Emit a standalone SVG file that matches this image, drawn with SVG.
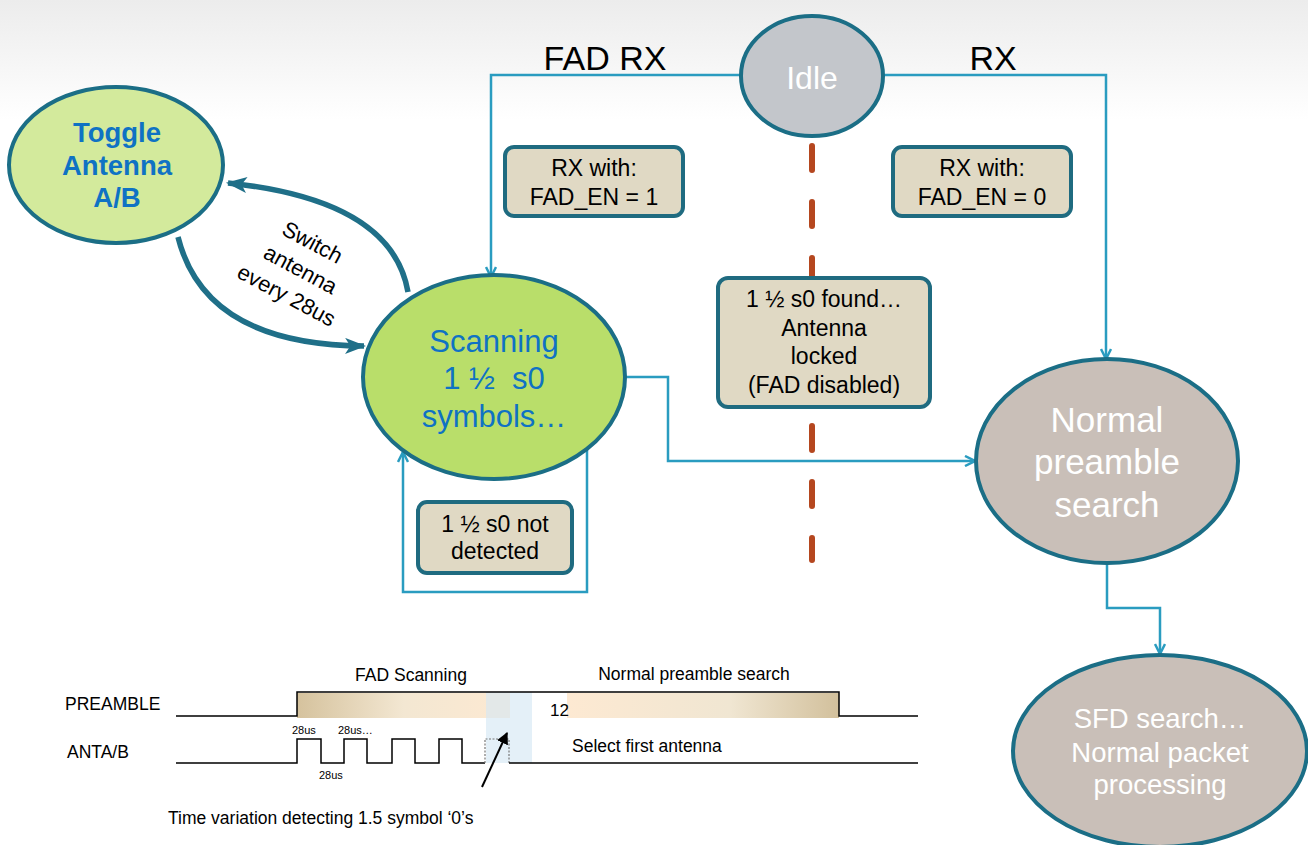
<svg xmlns="http://www.w3.org/2000/svg" width="1308" height="845" viewBox="0 0 1308 845">
<defs>
<linearGradient id="bg" x1="0" y1="0" x2="0" y2="1">
<stop offset="0" stop-color="#ececec"/><stop offset="1" stop-color="#ffffff"/>
</linearGradient>
<linearGradient id="g1" x1="0" y1="0" x2="1" y2="0">
<stop offset="0" stop-color="#d5c29d"/><stop offset="0.5" stop-color="#f3e7d2"/><stop offset="1" stop-color="#fde9d2"/>
</linearGradient>
<linearGradient id="g2" x1="0" y1="0" x2="1" y2="0">
<stop offset="0" stop-color="#fde9d2"/><stop offset="0.6" stop-color="#f0e6d2"/><stop offset="1" stop-color="#d2c09c"/>
</linearGradient>
<marker id="open" viewBox="0 0 12 12" refX="11" refY="6" markerWidth="12" markerHeight="12" markerUnits="userSpaceOnUse" orient="auto">
<path d="M1,1 L11,6 L1,11" fill="none" stroke="#2a9cc0" stroke-width="2.5"/>
</marker>
<marker id="thick" viewBox="0 0 10 10" refX="9" refY="5" markerWidth="21" markerHeight="16" markerUnits="userSpaceOnUse" orient="auto" preserveAspectRatio="none">
<path d="M0,0 L10,5 L0,10 L2.5,5 Z" fill="#1f6f88"/>
</marker>
<marker id="blk" viewBox="0 0 10 10" refX="9" refY="5" markerWidth="12" markerHeight="12" markerUnits="userSpaceOnUse" orient="auto">
<path d="M0,0 L10,5 L0,10 Z" fill="#000"/>
</marker>
<style>
.conn{fill:none;stroke:#2a9cc0;stroke-width:2.5}
.box{fill:#e0d9c4;stroke:#1f6b80;stroke-width:4}
.bt{font-family:"Liberation Sans",Arial,sans-serif;font-size:23px;fill:#000;text-anchor:middle}
.wt{font-family:"Liberation Sans",Arial,sans-serif;fill:#fff;text-anchor:middle}
.bl{font-family:"Liberation Sans",Arial,sans-serif;fill:#0f72c4;text-anchor:middle}
.tt{font-family:"Liberation Sans",Arial,sans-serif;fill:#000}
.sig{fill:none;stroke:#000;stroke-width:1.5}
.arc{fill:none;stroke:#1f6f88;stroke-width:5.5}
</style>
</defs>
<rect x="0" y="0" width="1308" height="120" fill="url(#bg)"/>

<g id="connectors">
<path class="conn" d="M742,75 H491 V277" marker-end="url(#open)"/>
<path class="conn" d="M882,75 H1106 V359" marker-end="url(#open)"/>
<path class="conn" d="M625,377 H668 V461 H975" marker-end="url(#open)"/>
<path class="conn" d="M587,449 V592 H403 V452" marker-end="url(#open)"/>
<path class="conn" d="M1107,563 V608 H1160 V654" marker-end="url(#open)"/>
<path class="arc" d="M408,292 Q392,200 228,183" marker-end="url(#thick)"/>
<path class="arc" d="M178,237 Q205,345 364,346" marker-end="url(#thick)"/>
<line x1="812" y1="146" x2="812" y2="560" stroke="#b5471f" stroke-width="6" stroke-linecap="round" stroke-dasharray="24 32"/>
<text class="tt" font-size="34" x="605" y="70" text-anchor="middle">FAD RX</text>
<text class="tt" font-size="34" x="993" y="70" text-anchor="middle">RX</text>
<g font-family="Liberation Sans,Arial,sans-serif" font-size="22" fill="#000" text-anchor="middle">
<text transform="translate(309,249) rotate(28)">Switch</text>
<text transform="translate(297,276) rotate(28)">antenna</text>
<text transform="translate(283,302) rotate(28)">every 28us</text>
</g>
</g>

<g id="idle">
<ellipse cx="812" cy="76" rx="71" ry="60" fill="#c3c6cb" stroke="#1b6e86" stroke-width="4"/>
<text class="wt" x="812" y="89" font-size="32" fill="#f4f4f4">Idle</text>
</g>

<g id="toggle">
<ellipse cx="116" cy="165" rx="107" ry="78" fill="#d3ea9c" stroke="#1b6e86" stroke-width="4"/>
<text class="bl" font-weight="bold" font-size="27.5" x="117" y="142">Toggle</text>
<text class="bl" font-weight="bold" font-size="27.5" x="117" y="175">Antenna</text>
<text class="bl" font-weight="bold" font-size="27.5" x="117" y="207">A/B</text>
</g>

<g id="scanning">
<ellipse cx="494" cy="377" rx="131" ry="102" fill="#b9de6a" stroke="#1b6e86" stroke-width="4"/>
<text class="bl" font-size="31" x="494" y="352">Scanning</text>
<text class="bl" font-size="31" x="494" y="389" xml:space="preserve">1 ½  s0</text>
<text class="bl" font-size="31" x="494" y="427">symbols…</text>
</g>

<g id="rx1">
<rect class="box" x="505" y="147" width="178" height="69" rx="9"/>
<text class="bt" x="594" y="176">RX with:</text>
<text class="bt" x="594" y="205">FAD_EN = 1</text>
</g>

<g id="rx0">
<rect class="box" x="893" y="147" width="178" height="69" rx="9"/>
<text class="bt" x="982" y="176">RX with:</text>
<text class="bt" x="982" y="205">FAD_EN = 0</text>
</g>

<g id="found">
<rect class="box" x="718" y="278" width="212" height="129" rx="10"/>
<text class="bt" x="824" y="307">1 ½ s0 found…</text>
<text class="bt" x="824" y="336">Antenna</text>
<text class="bt" x="824" y="364">locked</text>
<text class="bt" x="824" y="393">(FAD disabled)</text>
</g>

<g id="notdetected">
<rect class="box" x="418" y="502" width="154" height="71" rx="9"/>
<text class="bt" x="495" y="532">1 ½ s0 not</text>
<text class="bt" x="495" y="559">detected</text>
</g>

<g id="normal">
<ellipse cx="1107" cy="461" rx="131" ry="102" fill="#c9bfb8" stroke="#1b6e86" stroke-width="4"/>
<text class="wt" font-size="35" x="1107" y="432">Normal</text>
<text class="wt" font-size="35" x="1107" y="474">preamble</text>
<text class="wt" font-size="35" x="1107" y="517">search</text>
</g>

<g id="sfd">
<ellipse cx="1160" cy="751" rx="147" ry="96" fill="#c9bfb8" stroke="#1b6e86" stroke-width="4"/>
<text class="wt" font-size="27.5" x="1160" y="728">SFD search…</text>
<text class="wt" font-size="27.5" x="1160" y="762">Normal packet</text>
<text class="wt" font-size="27.5" x="1160" y="794">processing</text>
</g>

<g id="timing">
<rect x="297" y="693" width="213" height="25" fill="url(#g1)"/>
<rect x="567" y="693" width="272" height="25" fill="url(#g2)"/>
<rect x="486" y="692" width="46" height="71" fill="#d6e8f4" opacity="0.65"/>
<path class="sig" d="M176,716 H297 V692 H839 V716 H918"/>
<path class="sig" d="M176,763 H297 V739 H321 V763 H344 V739 H367 V763 H392 V739 H415 V763 H439 V739 H462 V763 H485"/>
<path d="M485,763 V739 H509 V763" fill="none" stroke="#777" stroke-width="1.2" stroke-dasharray="2 1.5"/>
<path class="sig" d="M509,763 H918"/>
<line x1="482" y1="787" x2="507" y2="733" stroke="#000" stroke-width="2" marker-end="url(#blk)"/>
<text class="tt" font-size="17.5" x="65" y="710">PREAMBLE</text>
<text class="tt" font-size="17.5" x="67" y="758">ANTA/B</text>
<text class="tt" font-size="17.5" x="411" y="681" text-anchor="middle">FAD Scanning</text>
<text class="tt" font-size="17.5" x="694" y="680" text-anchor="middle">Normal preamble search</text>
<text class="tt" font-size="17" x="550" y="716">12</text>
<text class="tt" font-size="17.5" x="572" y="752">Select first antenna</text>
<text class="tt" font-size="11" x="292" y="734">28us</text>
<text class="tt" font-size="11" x="338" y="734">28us…</text>
<text class="tt" font-size="11" x="319" y="779">28us</text>
<text class="tt" font-size="17.5" x="168" y="824">Time variation detecting 1.5 symbol ‘0’s</text>
</g>
</svg>
